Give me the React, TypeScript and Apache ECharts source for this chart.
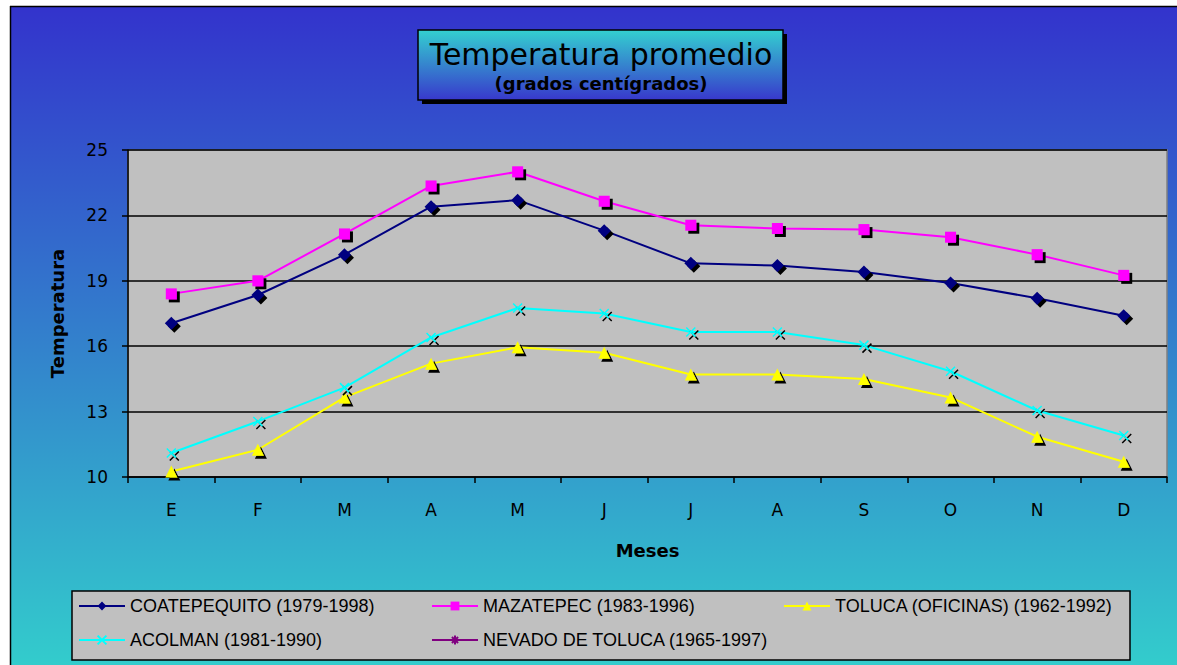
import React, { useEffect, useRef } from "react";
import * as echarts from "echarts";

// ---- data ----
const months = ["E", "F", "M", "A", "M", "J", "J", "A", "S", "O", "N", "D"];
const yTickLabels = [10, 13, 16, 19, 22, 25];

const coatepequito = [17.05, 18.35, 20.2, 22.4, 22.7, 21.3, 19.8, 19.7, 19.4, 18.9, 18.2, 17.4];
const mazatepec = [18.4, 19.0, 21.15, 23.35, 24.0, 22.65, 21.55, 21.4, 21.35, 21.0, 20.2, 19.25];
const toluca = [10.25, 11.25, 13.65, 15.2, 15.95, 15.7, 14.7, 14.7, 14.5, 13.65, 11.85, 10.7];
const acolman = [11.1, 12.55, 14.1, 16.4, 17.75, 17.5, 16.65, 16.65, 16.05, 14.85, 13.05, 11.9];
// Nevado de Toluca appears only in the legend (no points drawn in the reference)
const nevado: (number | null)[] = [null, null, null, null, null, null, null, null, null, null, null, null];

const seriesNames = [
  "COATEPEQUITO (1979-1998)",
  "MAZATEPEC (1983-1996)",
  "TOLUCA (OFICINAS) (1962-1992)",
  "ACOLMAN (1981-1990)",
  "NEVADO DE TOLUCA (1965-1997)",
];

const Y_BASE = yTickLabels[0];
const Y_STEP = yTickLabels[1] - yTickLabels[0];
const Y_TOP = yTickLabels[yTickLabels.length - 1];

const shift = (arr: (number | null)[]) => arr.map((v) => (v == null ? null : v - Y_BASE));

const X_PATH = "path://M0,0L10,10M10,0L0,10";
const STAR_PATH = "path://M5,0L5,10M0,5L10,5M1.5,1.5L8.5,8.5M8.5,1.5L1.5,8.5";

const shadow = { shadowColor: "#000", shadowBlur: 0, shadowOffsetX: 3, shadowOffsetY: 3 };

export default function App() {
  const ref = useRef<HTMLDivElement>(null);

  useEffect(() => {
    if (!ref.current) return;
    const chart = echarts.init(ref.current, undefined, { renderer: "svg" });

    const legendText = { color: "#000", fontFamily: "Liberation Sans, Arial, sans-serif", fontSize: 18 };
    const legendCommon = {
      orient: "vertical" as const,
      top: 597,
      padding: 0,
      itemWidth: 46,
      itemHeight: 11,
      itemGap: 16,
      selectedMode: false,
      textStyle: legendText,
    };

    const mkLine = (name: string, data: (number | null)[], color: string, symbol: string, size: number, extra: any = {}) => ({
      type: "line",
      name,
      data: shift(data),
      symbol,
      symbolSize: size,
      showSymbol: true,
      lineStyle: { color, width: 2 },
      itemStyle: { color, ...shadow, ...(extra.itemStyle || {}) },
      emphasis: { disabled: true },
      z: 2,
    });

    chart.setOption({
      animation: false,
      graphic: [
        {
          type: "rect",
          z: -10,
          silent: true,
          shape: { x: 10, y: 6, width: 1167, height: 659 },
          style: {
            fill: new echarts.graphic.LinearGradient(0, 0, 0, 1, [
              { offset: 0, color: "#3333CC" },
              { offset: 1, color: "#33CCCC" },
            ]),
          },
        },
        { type: "line", z: -9, silent: true, shape: { x1: 10.5, y1: 6, x2: 10.5, y2: 665 }, style: { stroke: "#000", lineWidth: 1.5 } },
        { type: "line", z: -9, silent: true, shape: { x1: 10, y1: 6.5, x2: 1177, y2: 6.5 }, style: { stroke: "#000", lineWidth: 1.5 } },
        // title box
        { type: "rect", z: 5, silent: true, shape: { x: 422, y: 34, width: 365, height: 70 }, style: { fill: "#000" } },
        {
          type: "rect",
          z: 6,
          silent: true,
          shape: { x: 418, y: 30, width: 365, height: 70 },
          style: {
            fill: new echarts.graphic.LinearGradient(0, 0, 0, 1, [
              { offset: 0, color: "#33D0D0" },
              { offset: 1, color: "#3838CC" },
            ]),
            stroke: "#000",
            lineWidth: 1.5,
          },
        },
        {
          type: "text",
          z: 7,
          silent: true,
          x: 601,
          y: 54,
          style: {
            text: "Temperatura promedio",
            fill: "#000",
            font: "30px 'DejaVu Sans', sans-serif",
            textAlign: "center",
            textVerticalAlign: "middle",
          },
        },
        {
          type: "text",
          z: 7,
          silent: true,
          x: 601,
          y: 83,
          style: {
            text: "(grados centígrados)",
            fill: "#000",
            font: "bold 18px 'DejaVu Sans', sans-serif",
            textAlign: "center",
            textVerticalAlign: "middle",
          },
        },
        // legend box
        {
          type: "rect",
          z: 3,
          silent: true,
          shape: { x: 72, y: 591, width: 1058, height: 69 },
          style: { fill: "#C0C0C0", stroke: "#000", lineWidth: 1.5 },
        },
      ],
      legend: [
        { ...legendCommon, left: 78, data: [seriesNames[0], seriesNames[3]] },
        { ...legendCommon, left: 431, data: [seriesNames[1], seriesNames[4]] },
        { ...legendCommon, left: 783, data: [seriesNames[2]] },
      ],
      grid: {
        left: 128,
        right: 10,
        top: 150,
        bottom: 188,
        show: true,
        backgroundColor: "#C0C0C0",
        borderColor: "#808080",
        borderWidth: 1.5,
        containLabel: false,
      },
      xAxis: {
        type: "category",
        data: months,
        boundaryGap: true,
        name: "Meses",
        nameLocation: "middle",
        nameGap: 64,
        nameTextStyle: { color: "#000", fontFamily: "DejaVu Sans, sans-serif", fontWeight: "bold", fontSize: 18 },
        axisLine: { show: true, lineStyle: { color: "#000", width: 1.5 } },
        axisTick: { show: true, inside: false, length: 6, lineStyle: { color: "#000", width: 1.5 } },
        axisLabel: { color: "#000", fontFamily: "DejaVu Sans, sans-serif", fontSize: 17, margin: 24, interval: 0 },
        splitLine: { show: false },
      },
      yAxis: {
        type: "value",
        min: 0,
        max: Y_TOP - Y_BASE,
        interval: Y_STEP,
        name: "Temperatura",
        nameLocation: "middle",
        nameGap: 62,
        nameTextStyle: { color: "#000", fontFamily: "DejaVu Sans, sans-serif", fontWeight: "bold", fontSize: 18 },
        axisLine: { show: true, lineStyle: { color: "#000", width: 1.5 } },
        axisTick: { show: true, inside: false, length: 6, lineStyle: { color: "#000", width: 1.5 } },
        axisLabel: {
          color: "#000",
          fontFamily: "DejaVu Sans, sans-serif",
          fontSize: 17,
          margin: 20,
          formatter: (v: number) => String(v + Y_BASE),
        },
        splitLine: { show: true, lineStyle: { color: "#000", width: 1.5 } },
      },
      series: [
        mkLine(seriesNames[0], coatepequito, "#000080", "diamond", 13),
        mkLine(seriesNames[1], mazatepec, "#FF00FF", "rect", 11),
        mkLine(seriesNames[2], toluca, "#FFFF00", "triangle", 12),
        mkLine(seriesNames[3], acolman, "#00FFFF", X_PATH, 9, {
          itemStyle: { borderColor: "#00FFFF", borderWidth: 1.5 },
        }),
        mkLine(seriesNames[4], nevado, "#800080", STAR_PATH, 9, {
          itemStyle: { borderColor: "#800080", borderWidth: 1.5 },
        }),
      ],
    });

    return () => chart.dispose();
  }, []);

  return (
    <div
      ref={ref}
      style={{ position: "fixed", left: 0, top: 0, width: 1177, height: 665, background: "#fff" }}
    />
  );
}
